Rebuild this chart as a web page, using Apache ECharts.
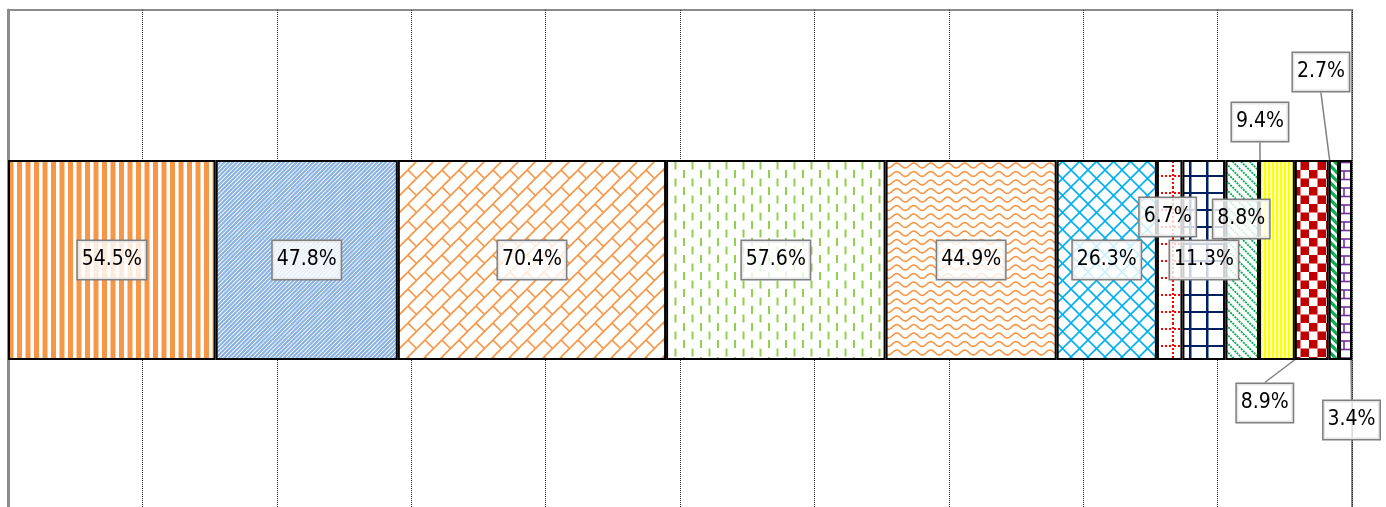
<!DOCTYPE html>
<html><head><meta charset="utf-8">
<script src="https://cdn.jsdelivr.net/npm/echarts@6/dist/echarts.min.js"></script>
<style>html,body{margin:0;padding:0;background:#fff}#c{width:1386px;height:507px}</style>
</head><body><div id="c"></div>
<script>
// ---- data ----
const categories = ['全体'];
const seriesNames = ['項目1','項目2','項目3','項目4','項目5','項目6','項目7','項目8','項目9','項目10','項目11','項目12','項目13'];
const values = [54.5, 47.8, 70.4, 57.6, 44.9, 26.3, 6.7, 11.3, 8.8, 9.4, 8.9, 2.7, 3.4];

// ---- label placement (style only) ----
const labelMoves = [null,null,null,null,null,null,
  {dx:-2,dy:-43,line:false}, null, {dx:-1,dy:-41,line:false},
  {dx:-17,dy:-138,line:true}, {dx:-47,dy:143,line:true},
  {dx:-13,dy:-188,line:true}, {dx:6,dy:160,line:true}];

// ---- patterns ----
function mk(w,h,draw){const c=document.createElement('canvas');c.width=w;c.height=h;const g=c.getContext('2d');g.fillStyle='#fff';g.fillRect(0,0,w,h);draw(g,w,h);return {image:c,repeat:'repeat'};}
function segs(g,list,w,h){
  for(const s of list){for(let ox=-w;ox<=w;ox+=w)for(let oy=-h;oy<=h;oy+=h){g.beginPath();g.moveTo(s[0]+ox,s[1]+oy);g.lineTo(s[2]+ox,s[3]+oy);g.stroke();}}
}
const T=17;
const patterns=[
  mk(T,1,(g)=>{g.fillStyle='#F79646';g.fillRect(0,0,5,1);g.fillRect(8.5,0,5,1);}),
  mk(T,T,(g,w,h)=>{g.strokeStyle='#8DB4E2';g.lineWidth=1.9;const L=[];for(let k=0;k<=8;k++){const c=k*4.25;L.push([c,0,c-T,T]);}segs(g,L,w,h);}),
  mk(T,T,(g,w,h)=>{g.strokeStyle='#F79646';g.lineWidth=1.6;segs(g,[[0,T,T,0],[0,0,8.5,8.5]],w,h);}),
  mk(T,T,(g)=>{g.fillStyle='#92D050';g.fillRect(3,0,2,8);g.fillRect(11.5,8.5,2,8);}),
  mk(T,T,(g)=>{g.strokeStyle='#F79646';g.lineWidth=1.6;for(const b of [4,12.5]){g.beginPath();for(let x=-1;x<=T+1;x+=0.5){const y=b+2.4*Math.sin(2*Math.PI*x/T);if(x<=-1)g.moveTo(x,y);else g.lineTo(x,y);}g.stroke();}}),
  mk(T,T,(g,w,h)=>{g.strokeStyle='#00B0F0';g.lineWidth=1.6;segs(g,[[0,0,T,T],[0,T,T,0]],w,h);}),
  mk(T,T,(g)=>{g.fillStyle='#FF0000';for(let y=0;y<T;y+=4){g.fillRect(0,y,1,2);g.fillRect(16,y,1,2);}for(let x=0;x<T;x+=4){g.fillRect(x+1,5,2,2);}}),
  mk(T,T,(g)=>{g.fillStyle='#002060';g.fillRect(0,0,1.5,T);g.fillRect(16,0,1,T);g.fillRect(0,5,T,2);}),
  mk(T,T,(g,w,h)=>{g.strokeStyle='#00B050';g.lineWidth=1.8;g.setLineDash([2,1]);segs(g,[[0,0,T,T],[8.5,0,T+8.5,T]],w,h);}),
  mk(4,1,(g)=>{g.fillStyle='#FFFF00';g.fillRect(0,0,2.2,1);g.fillStyle='#FFFF99';g.fillRect(2.2,0,0.4,1);}),
  mk(T,T,(g)=>{g.fillStyle='#C00000';g.fillRect(0,0,8.5,8.5);g.fillRect(8.5,8.5,8.5,8.5);}),
  mk(T,T,(g,w,h)=>{g.strokeStyle='#00B050';g.lineWidth=3.2;segs(g,[[0,0,T,T],[8.5,0,T+8.5,T]],w,h);}),
  mk(T,T,(g,w,h)=>{g.strokeStyle='#7030A0';g.lineWidth=1.6;segs(g,[[0,1,T,1],[0,9.5,T,9.5],[1,1,1,9.5],[9.5,9.5,9.5,T+1]],w,h);})
];

const total = values.reduce((a,b)=>a+b,0);
const FONT='"Liberation Sans Narrow","DejaVu Sans Condensed","Arial Narrow",sans-serif';

const series = values.map((v,i)=>{
  const m=labelMoves[i];
  const s={
    name:seriesNames[i], type:'bar', stack:'all', barWidth:200,
    data:[v],
    itemStyle:{color:patterns[i],borderColor:'#000',borderWidth:2},
    label:{show:true,position:'inside',formatter:'{c}%',color:'#000',fontSize:21,fontFamily:FONT,
      backgroundColor:'rgba(255,255,255,0.8)',borderColor:'#7f7f7f',borderWidth:1.5,padding:[8.5,4]},
    emphasis:{disabled:true}, animation:false
  };
  if(m){s.labelLayout={dx:m.dx,dy:m.dy}; if(m.line){s.labelLine={show:true,lineStyle:{color:'#7f7f7f',width:1.5}};}}
  return s;
});

const chart=echarts.init(document.getElementById('c'),null,{renderer:'canvas'});
chart.setOption({
  animation:false,
  grid:{left:8,top:10,width:1344,height:500,outerBoundsMode:'none',containLabel:false,show:true,borderColor:'#8c8c8c',borderWidth:2,backgroundColor:'#fff'},
  xAxis:{type:'value',min:0,max:total,interval:total/10,axisLabel:{show:false},axisTick:{show:false},axisLine:{show:false},
    splitLine:{show:true,showMinLine:false,showMaxLine:false,lineStyle:{color:'#222',width:1,type:[1,1]}}},
  yAxis:{type:'category',data:categories,axisLabel:{show:false},axisTick:{show:false},
    axisLine:{show:true,lineStyle:{color:'#8c8c8c',width:3}}},
  series
});
</script></body></html>
